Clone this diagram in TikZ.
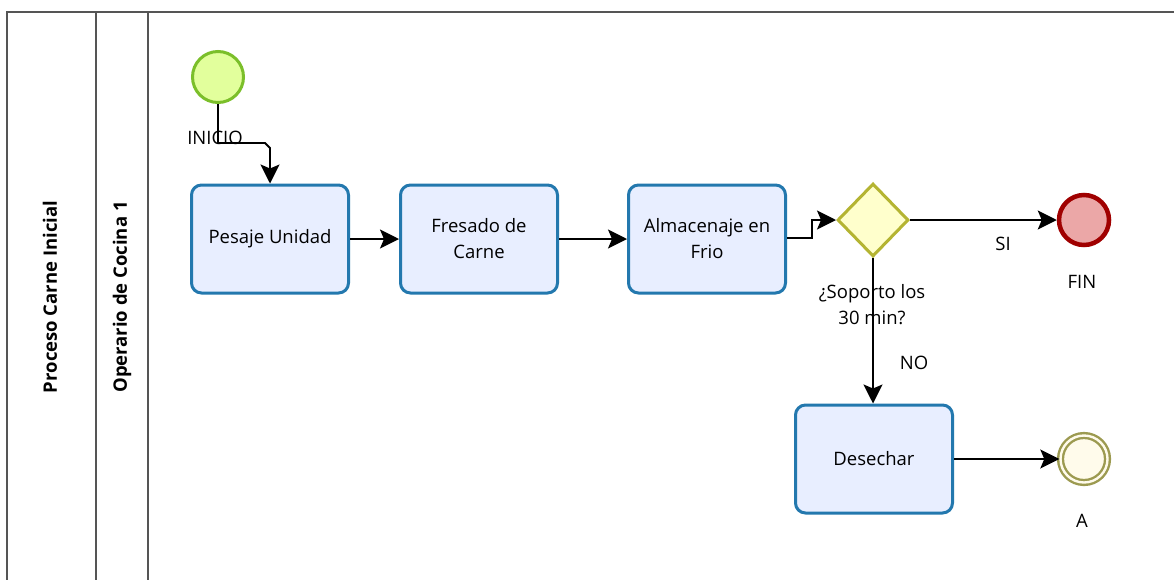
\documentclass[tikz,border=0pt]{standalone}
\usepackage{fontspec}
\setmainfont{Open Sans}
\usetikzlibrary{arrows.meta,shapes.geometric}
\definecolor{taskfill}{HTML}{E8EEFF}
\definecolor{taskline}{HTML}{2378AE}
\definecolor{startfill}{HTML}{E2FF9C}
\definecolor{startline}{HTML}{7BBF2A}
\definecolor{endfill}{HTML}{EBA7A7}
\definecolor{endline}{HTML}{A00000}
\definecolor{gatefill}{HTML}{FFFFCC}
\definecolor{gateline}{HTML}{B4B432}
\definecolor{linkfill}{HTML}{FFFBEB}
\definecolor{linkline}{HTML}{9C9A50}
\definecolor{lanegray}{HTML}{555555}
\tikzset{
  task/.style={draw=taskline, fill=taskfill, line width=3pt, rounded corners=10pt,
    minimum width=157pt, minimum height=108pt, align=center, font=\fontsize{18.5}{26}\selectfont},
  startev/.style={circle, draw=startline, fill=startfill, line width=3pt, minimum size=51pt, inner sep=0pt},
  endev/.style={circle, draw=endline, fill=endfill, line width=4.5pt, minimum size=50pt, inner sep=0pt},
  linkev/.style={circle, draw=linkline, fill=linkfill, line width=2.4pt, double=linkfill, double distance=2.4pt, minimum size=47pt, inner sep=0pt},
  gate/.style={diamond, draw=gateline, fill=gatefill, line width=3pt, minimum width=71pt, minimum height=73pt, inner sep=0pt, aspect=1},
  lbl/.style={font=\fontsize{18.5}{26}\selectfont, align=center, inner sep=0pt},
  lanelbl/.style={font=\bfseries\fontsize{18.5}{22}\selectfont, rotate=90, inner sep=0pt},
  flow/.style={draw=black, line width=1.8pt, -{Stealth[length=19pt,width=19pt,inset=4pt]}},
  lane/.style={draw=lanegray, line width=1.5pt}
}
\begin{document}
\begin{tikzpicture}[x=1pt,y=-1pt]
\useasboundingbox (0,0) rectangle (1174,579);
\fill[white] (0,0) rectangle (1174,579);
% pool and lane borders
\draw[lane] (7,585) -- (7,12) -- (1180,12);
\draw[lane] (96,12) -- (96,585);
\draw[lane] (148,12) -- (148,585);
\node[lanelbl] (pool) at (50,297) {Proceso Carne Inicial};
\node[lanelbl] (lanename) at (122,297) {Operario de Cocina 1};
% events, tasks, gateway
\node[startev] (start) at (218,77) {};
\node[lbl] (startlbl) at (215,138) {INICIO};
\node[task] (pesaje) at (270,239) {Pesaje Unidad};
\node[task] (fresado) at (479,239) {Fresado de\\Carne};
\node[task] (almac) at (707,239) {Almacenaje en\\Frio};
\node[gate] (gw) at (873,220) {};
\node[lbl] (gwlbl) at (872,305) {¿Soporto los\\30 min?};
\node[endev] (fin) at (1084,220) {};
\node[lbl] (finlbl) at (1082,282) {FIN};
\node[task] (desechar) at (874,459) {Desechar};
\node[linkev] (link) at (1084,459) {};
\node[lbl] (linklbl) at (1082,521) {A};
% sequence flows
\coordinate (c1) at (218,143);
\coordinate (c2) at (265,143);
\coordinate (c3) at (270,148);
\draw[flow] (start.south) -- (c1) -- (c2) -- (c3) -- (pesaje.north);
\draw[flow] (pesaje.east) -- (fresado.west);
\draw[flow] (fresado.east) -- (almac.west);
\coordinate (d1) at (812,238);
\coordinate (d2) at (812,220);
\draw[flow] (almac.east |- d1) -- (d1) -- (d2) -- (gw.west);
\draw[flow] (gw.east) -- (fin.west);
\node[lbl] (si) at (1003,244) {SI};
\draw[flow] (gw.south) -- (gw.south |- desechar.north);
\node[lbl] (no) at (914,363) {NO};
\draw[flow] (desechar.east) -- (link.west);
\end{tikzpicture}
\end{document}
